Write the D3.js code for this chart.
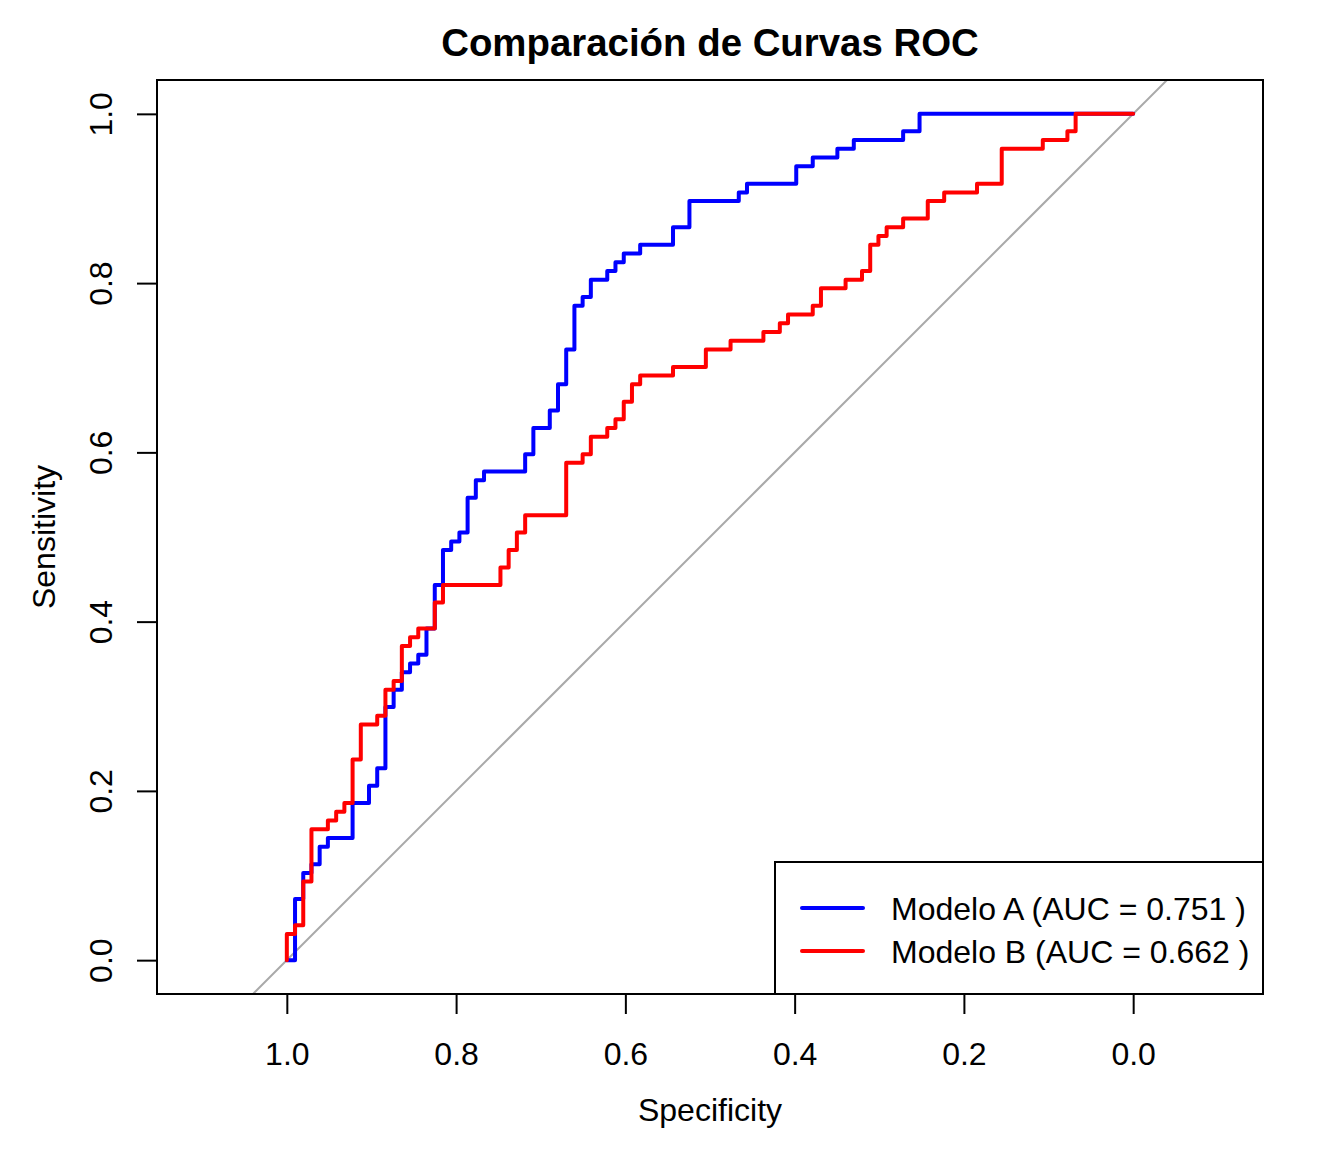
<!DOCTYPE html>
<html>
<head>
<meta charset="utf-8">
<script src="https://cdn.jsdelivr.net/npm/d3@7"></script>
<style>
  html, body { margin: 0; padding: 0; background: #fff; }
  svg { display: block; font-family: "Liberation Sans", Arial, Helvetica, sans-serif; }
</style>
</head>
<body>
<svg id="chart" width="1344" height="1152"></svg>
<script>
// ---- Data ----
const title = "Comparación de Curvas ROC";
const xLabel = "Specificity";
const yLabel = "Sensitivity";
const xTicks = [1.0, 0.8, 0.6, 0.4, 0.2, 0.0];
const yTicks = [0.0, 0.2, 0.4, 0.6, 0.8, 1.0];

const modelNames = ["Modelo A", "Modelo B"];
const aucValues = ["0.751", "0.662"];
const modelColors = ["#0000FF", "#FF0000"];

// ROC corner points (specificity, sensitivity), drawn as steps
const specA = [1, 0.9903, 0.9806, 0.9709, 0.9612, 0.9515, 0.9223, 0.9029, 0.8932, 0.8835, 0.8738, 0.8641, 0.8544, 0.8447, 0.8350, 0.8252, 0.8155, 0.8058, 0.7961, 0.7864, 0.7767, 0.7670, 0.7184, 0.7087, 0.6893, 0.6796, 0.6699, 0.6602, 0.6505, 0.6408, 0.6214, 0.6117, 0.6019, 0.5825, 0.5437, 0.5243, 0.4660, 0.4563, 0.3981, 0.3786, 0.3495, 0.3301, 0.2718, 0.2524, 0];
const sensA = [0, 0.0722, 0.1031, 0.1134, 0.1340, 0.1443, 0.1856, 0.2062, 0.2268, 0.2990, 0.3196, 0.3402, 0.3505, 0.3608, 0.3918, 0.4433, 0.4845, 0.4948, 0.5052, 0.5464, 0.5670, 0.5773, 0.5979, 0.6289, 0.6495, 0.6804, 0.7216, 0.7732, 0.7835, 0.8041, 0.8144, 0.8247, 0.8351, 0.8454, 0.8660, 0.8969, 0.9072, 0.9175, 0.9381, 0.9485, 0.9588, 0.9691, 0.9794, 1, 1];

const specB = [1, 1, 0.9903, 0.9806, 0.9709, 0.9515, 0.9417, 0.9320, 0.9223, 0.9126, 0.8932, 0.8835, 0.8738, 0.8641, 0.8544, 0.8447, 0.8252, 0.8155, 0.7476, 0.7379, 0.7282, 0.7184, 0.6699, 0.6505, 0.6408, 0.6214, 0.6117, 0.6019, 0.5922, 0.5825, 0.5437, 0.5049, 0.4757, 0.4369, 0.4175, 0.4078, 0.3786, 0.3689, 0.3398, 0.3204, 0.3107, 0.3010, 0.2913, 0.2718, 0.2427, 0.2233, 0.1845, 0.1553, 0.1068, 0.0777, 0.0680, 0];
const sensB = [0, 0.0309, 0.0412, 0.0928, 0.1546, 0.1649, 0.1753, 0.1856, 0.2371, 0.2784, 0.2887, 0.3196, 0.3299, 0.3711, 0.3814, 0.3918, 0.4227, 0.4433, 0.4639, 0.4845, 0.5052, 0.5258, 0.5876, 0.5979, 0.6186, 0.6289, 0.6392, 0.6598, 0.6804, 0.6907, 0.7010, 0.7216, 0.7320, 0.7423, 0.7526, 0.7629, 0.7732, 0.7938, 0.8041, 0.8144, 0.8454, 0.8557, 0.8660, 0.8763, 0.8969, 0.9072, 0.9175, 0.9588, 0.9691, 0.9794, 1, 1];

// ---- Layout ----
const plot = { left: 157, right: 1263, top: 80, bottom: 994 };
const svg = d3.select("#chart");

const x = d3.scaleLinear().domain([1.1534, -0.1534]).range([plot.left, plot.right]);
const y = d3.scaleLinear().domain([-0.04, 1.04]).range([plot.bottom, plot.top]);

svg.append("defs").append("clipPath").attr("id", "plotclip")
  .append("rect")
  .attr("x", plot.left).attr("y", plot.top)
  .attr("width", plot.right - plot.left).attr("height", plot.bottom - plot.top);

const g = svg.append("g").attr("clip-path", "url(#plotclip)");

// identity line (sens = 1 - spec), extended across the plot
const diagDomain = [1.1534, -0.1534];
g.append("line")
  .attr("x1", x(diagDomain[0])).attr("y1", y(1 - diagDomain[0]))
  .attr("x2", x(diagDomain[1])).attr("y2", y(1 - diagDomain[1]))
  .attr("stroke", "#A9A9A9").attr("stroke-width", 2);

const line = d3.line()
  .x(d => x(d[0])).y(d => y(d[1]))
  .curve(d3.curveStepAfter);

const series = [d3.zip(specA, sensA), d3.zip(specB, sensB)];
series.forEach((pts, i) => {
  g.append("path")
    .datum(pts)
    .attr("d", line)
    .attr("fill", "none")
    .attr("stroke", modelColors[i])
    .attr("stroke-width", 4)
    .attr("stroke-linejoin", "round")
    .attr("stroke-linecap", "round");
});

// ---- Axes ----
const fmt = d3.format(".1f");
const xAxis = svg.append("g")
  .attr("transform", `translate(0,${plot.bottom})`)
  .call(d3.axisBottom(x).tickValues(xTicks).tickFormat(fmt).tickSize(20).tickSizeOuter(0));
xAxis.select(".domain").remove();
xAxis.append("line")
  .attr("x1", x(xTicks[0])).attr("x2", x(xTicks[xTicks.length - 1]))
  .attr("y1", 0).attr("y2", 0).attr("stroke", "#000").attr("stroke-width", 2);
xAxis.selectAll(".tick line").attr("stroke", "#000").attr("stroke-width", 2);
xAxis.selectAll(".tick text")
  .attr("y", 71).attr("dy", null)
  .attr("font-size", 32).attr("fill", "#000")
  .attr("font-family", "Liberation Sans, Arial, Helvetica, sans-serif");

const yAxis = svg.append("g")
  .attr("transform", `translate(${plot.left},0)`)
  .call(d3.axisLeft(y).tickValues(yTicks).tickFormat(fmt).tickSize(20).tickSizeOuter(0));
yAxis.select(".domain").remove();
yAxis.append("line")
  .attr("y1", y(yTicks[0])).attr("y2", y(yTicks[yTicks.length - 1]))
  .attr("x1", 0).attr("x2", 0).attr("stroke", "#000").attr("stroke-width", 2);
yAxis.selectAll(".tick line").attr("stroke", "#000").attr("stroke-width", 2);
yAxis.selectAll(".tick text")
  .attr("x", null).attr("dy", null)
  .attr("transform", "translate(-45,0) rotate(-90)")
  .attr("text-anchor", "middle")
  .attr("font-size", 32).attr("fill", "#000")
  .attr("font-family", "Liberation Sans, Arial, Helvetica, sans-serif");

// plot box
svg.append("rect")
  .attr("x", plot.left).attr("y", plot.top)
  .attr("width", plot.right - plot.left).attr("height", plot.bottom - plot.top)
  .attr("fill", "none").attr("stroke", "#000").attr("stroke-width", 2);

// ---- Titles ----
svg.append("text")
  .attr("x", (plot.left + plot.right) / 2).attr("y", 56)
  .attr("text-anchor", "middle")
  .attr("font-size", 38.4).attr("font-weight", "bold")
  .text(title);

svg.append("text")
  .attr("x", (plot.left + plot.right) / 2).attr("y", 1121)
  .attr("text-anchor", "middle")
  .attr("font-size", 32)
  .text(xLabel);

svg.append("text")
  .attr("transform", `translate(55,${(plot.top + plot.bottom) / 2}) rotate(-90)`)
  .attr("text-anchor", "middle")
  .attr("font-size", 32)
  .text(yLabel);

// ---- Legend ----
const legend = svg.append("g");
legend.append("rect")
  .attr("x", 775).attr("y", 862)
  .attr("width", plot.right - 775).attr("height", plot.bottom - 862)
  .attr("fill", "#fff").attr("stroke", "#000").attr("stroke-width", 2);

modelNames.forEach((name, i) => {
  const cy = 908 + i * 43;
  legend.append("line")
    .attr("x1", 802).attr("x2", 863)
    .attr("y1", cy).attr("y2", cy)
    .attr("stroke", modelColors[i]).attr("stroke-width", 4)
    .attr("stroke-linecap", "round");
  legend.append("text")
    .attr("x", 891).attr("y", cy + 11.5)
    .attr("font-size", 32)
    .text(`${name} (AUC = ${aucValues[i]} )`);
});
</script>
</body>
</html>
